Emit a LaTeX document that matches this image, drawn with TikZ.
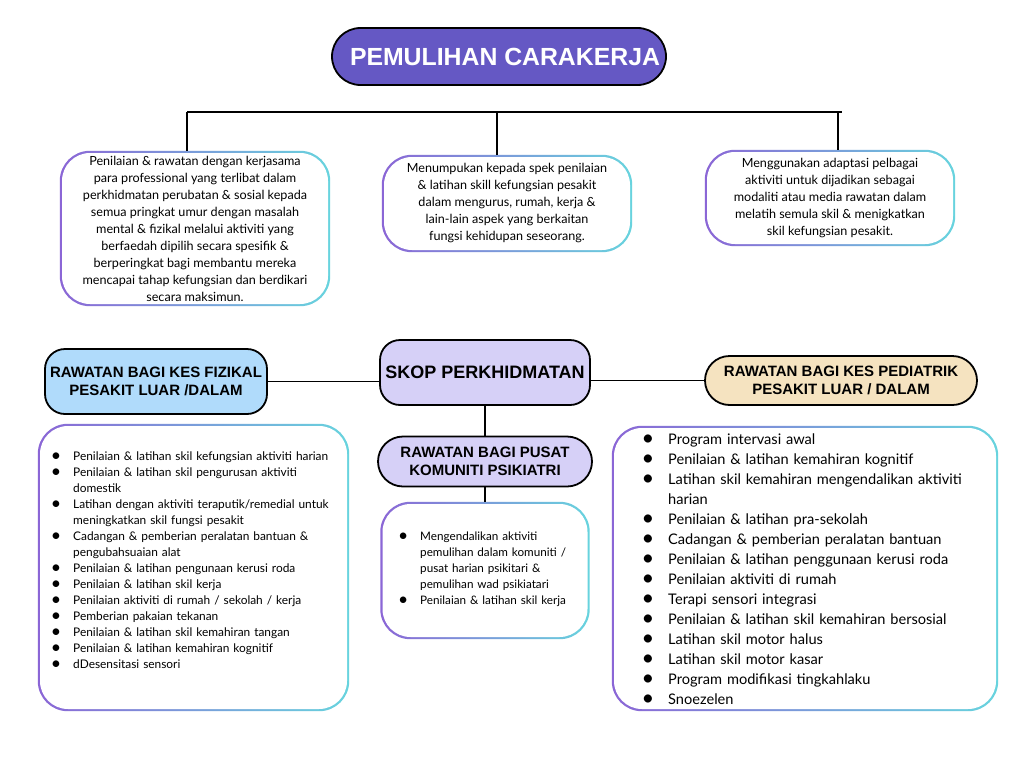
\documentclass[tikz,border=0pt]{standalone}
\usepackage{fontspec}
\usepackage{graphicx}
\setmainfont{Lato}
\newfontfamily\headfont{Liberation Sans}
\usetikzlibrary{backgrounds}
\definecolor{titlecol}{RGB}{101,88,196}
\definecolor{lav}{RGB}{214,208,247}
\definecolor{lblue}{RGB}{176,219,251}
\definecolor{beige}{RGB}{245,227,192}
\definecolor{gpurple}{RGB}{139,102,214}
\definecolor{gcyan}{RGB}{104,212,222}
\newcommand\bigbul{\llap{\raisebox{-0.05em}{\scalebox{1.5}{\textbullet}}}}
\newenvironment{blist}[3]{\begin{list}{\bigbul}{\setlength\leftmargin{#1}\setlength\labelwidth{#2}\setlength\labelsep{#3}\setlength\itemsep{0pt}\setlength\parsep{0pt}\setlength\topsep{0pt}\setlength\partopsep{0pt}\setlength\parskip{0pt}}}{\end{list}}
\newcommand\gframe[1]{%
  \shade[left color=gpurple, right color=gcyan, rounded corners=30pt] (#1.north west) rectangle (#1.south east);
  \fill[white, rounded corners=28pt] ([shift={(2.2pt,-2.2pt)}]#1.north west) rectangle ([shift={(-2.2pt,2.2pt)}]#1.south east);}
\begin{document}
\begin{tikzpicture}[x=1pt,y=-1pt,
  hdr/.style={draw=black, line width=1.8pt, align=center, inner sep=0pt,
    font=\headfont\bfseries\fontsize{15}{18}\selectfont},
  gbox/.style={inner sep=0pt, align=center, font=\fontsize{12.6}{17}\selectfont},
  frame/.style={inner sep=0pt},
  listtxt/.style={inner sep=0pt, anchor=north west, align=left},
  conn/.style={line width=1.8pt, black}]
\useasboundingbox (0,0) rectangle (1024,768);

% title
\node[hdr, fill=titlecol, text=white, rounded corners=28.5pt, minimum width=334pt, minimum height=57pt,
  font=\headfont\bfseries\fontsize{24.8}{28}\selectfont] (title) at (499,56.5) {\hspace*{12pt}PEMULIHAN CARAKERJA};

% top description boxes
\node[gbox, minimum width=270pt, minimum height=155pt] (b1) at (195,228.5)
 {Penilaian \& rawatan dengan kerjasama\\ para professional yang terlibat dalam\\ perkhidmatan perubatan \& sosial kepada\\ semua pringkat umur dengan masalah\\ mental \& fizikal melalui aktiviti yang\\ berfaedah dipilih secara spesifik \&\\ berperingkat bagi membantu mereka\\ mencapai tahap kefungsian dan berdikari\\ secara maksimun.};
\node[gbox, minimum width=250pt, minimum height=97pt] (b2) at (507,203.5)
 {Menumpukan kepada spek penilaian\\ \& latihan skill kefungsian pesakit\\ dalam mengurus, rumah, kerja \&\\ lain-lain aspek yang berkaitan\\ fungsi kehidupan seseorang.};
\node[gbox, minimum width=250pt, minimum height=96pt] (b3) at (830,198)
 {Menggunakan adaptasi pelbagai\\ aktiviti untuk dijadikan sebagai\\ modaliti atau media rawatan dalam\\ melatih semula skil \& menigkatkan\\ skil kefungsian pesakit.};

\coordinate (hL) at (187,112);
\coordinate (hM) at (497,112);
\coordinate (hR) at (838,112);
\coordinate (hE) at (842,112);
\draw[conn] (hL) -- (hE);
\draw[conn] (hL) -- (hL |- b1.north);
\draw[conn] (hM) -- (hM |- b2.north);
\draw[conn] (hR) -- (hR |- b3.north);

% middle row
\node[hdr, fill=lav, rounded corners=20pt, minimum width=210pt, minimum height=65pt,
  font=\headfont\bfseries\fontsize{18}{20}\selectfont] (skop) at (485,372.5) {SKOP PERKHIDMATAN};
\node[hdr, fill=lblue, rounded corners=20pt, minimum width=222pt, minimum height=65pt] (fiz) at (156,381.5)
 {RAWATAN BAGI KES FIZIKAL\\ PESAKIT LUAR /DALAM};
\node[hdr, fill=beige, rounded corners=24.5pt, minimum width=272pt, minimum height=49pt] (ped) at (841,380.5)
 {RAWATAN BAGI KES PEDIATRIK\\ PESAKIT LUAR / DALAM};
\node[hdr, fill=lav, rounded corners=25pt, minimum width=214pt, minimum height=50pt] (psh) at (485,461.5)
 {RAWATAN BAGI PUSAT\\ KOMUNITI PSIKIATRI};

\draw[conn] (fiz.east) -- (fiz.east -| skop.west);
\draw[conn] (ped.west -| skop.east) -- (ped.west);
\draw[conn] (skop.south) -- (psh.north);

% list frames
\node[frame, minimum width=311pt, minimum height=287pt] (lf) at (193.5,567.5) {};
\node[frame, minimum width=386pt, minimum height=285pt] (rf) at (805,568.5) {};
\node[frame, minimum width=209pt, minimum height=137pt] (pf) at (485,570.5) {};
\draw[conn] (psh.south) -- (pf.north);

% list texts
\node[listtxt, text width=290pt, font=\fontsize{11.9}{16}\selectfont] (lt) at (57,444.5) {%
\begin{blist}{16pt}{4pt}{12pt}
\item Penilaian \& latihan skil kefungsian aktiviti harian
\item Penilaian \& latihan skil pengurusan aktiviti\\ domestik
\item Latihan dengan aktiviti teraputik/remedial untuk\\ meningkatkan skil fungsi pesakit
\item Cadangan \& pemberian peralatan bantuan \&\\ pengubahsuaian alat
\item Penilaian \& latihan pengunaan kerusi roda
\item Penilaian \& latihan skil kerja
\item Penilaian aktiviti di rumah / sekolah / kerja
\item Pemberian pakaian tekanan
\item Penilaian \& latihan skil kemahiran tangan
\item Penilaian \& latihan kemahiran kognitif
\item dDesensitasi sensori
\end{blist}};

\node[listtxt, text width=340pt, font=\fontsize{14.6}{20}\selectfont] (rt) at (648,424.5) {%
\begin{blist}{20pt}{6pt}{14pt}
\item Program intervasi awal
\item Penilaian \& latihan kemahiran kognitif
\item Latihan skil kemahiran mengendalikan aktiviti\\ harian
\item Penilaian \& latihan pra-sekolah
\item Cadangan \& pemberian peralatan bantuan
\item Penilaian \& latihan penggunaan kerusi roda
\item Penilaian aktiviti di rumah
\item Terapi sensori integrasi
\item Penilaian \& latihan skil kemahiran bersosial
\item Latihan skil motor halus
\item Latihan skil motor kasar
\item Program modifikasi tingkahlaku
\item Snoezelen
\end{blist}};

\node[listtxt, text width=175pt, font=\fontsize{11.7}{16}\selectfont] (pt) at (404,524.5) {%
\begin{blist}{16pt}{4pt}{12pt}
\item Mengendalikan aktiviti\\ pemulihan dalam komuniti /\\ pusat harian psikitari \&\\ pemulihan wad psikiatari
\item Penilaian \& latihan skil kerja
\end{blist}};

\begin{scope}[on background layer]
  \fill[white] (0,0) rectangle (1024,768);
  \gframe{b1}\gframe{b2}\gframe{b3}
  \gframe{lf}\gframe{rf}\gframe{pf}
\end{scope}
\end{tikzpicture}
\end{document}
